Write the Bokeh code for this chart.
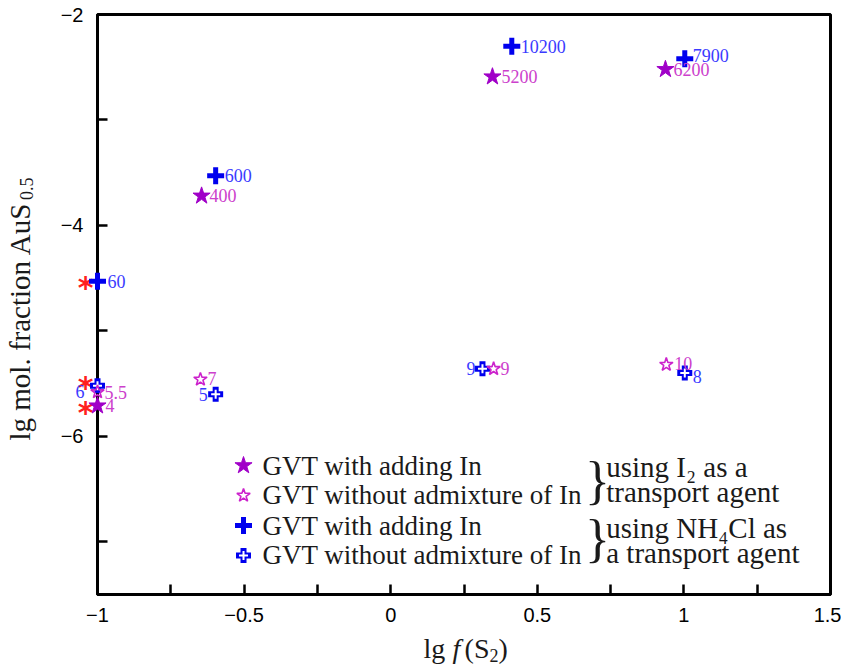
import math
from bokeh.plotting import figure
from bokeh.models import Label, Range1d, FixedTicker, ColumnDataSource, CustomJSTickFormatter
from bokeh.core.properties import value
from bokeh.embed import file_html
from bokeh.resources import INLINE

# lg f(S2) vs lg mol. fraction AuS0.5, labelled by Au content
# GVT with adding In, I2 as transport agent (filled stars)
i2_in_x = [-1.0, -0.645, 0.347, 0.937]
i2_in_y = [-5.71, -3.72, -2.59, -2.52]
i2_in_lbl = ["4", "400", "5200", "6200"]

# GVT without admixture of In, I2 as transport agent (open stars)
i2_no_x = [-1.0, -0.649, 0.351, 0.940]
i2_no_y = [-5.58, -5.46, -5.36, -5.32]
i2_no_lbl = ["5.5", "7", "9", "10"]

# GVT with adding In, NH4Cl as transport agent (filled crosses)
nh_in_x = [-1.0, -0.597, 0.413, 1.003]
nh_in_y = [-4.53, -3.53, -2.30, -2.42]
nh_in_lbl = ["60", "600", "10200", "7900"]

# GVT without admixture of In, NH4Cl as transport agent (open crosses)
nh_no_x = [-1.0, -0.597, 0.313, 1.003]
nh_no_y = [-5.52, -5.60, -5.36, -5.40]
nh_no_lbl = ["6", "5", "9", "8"]

# additional points at lg f(S2) = -1 (red asterisks, drawn just left of the axis)
ref_x = [-1.0, -1.0, -1.0]
ref_y = [-4.50, -5.45, -5.69]

x_ticks = [-1, -0.5, 0, 0.5, 1, 1.5]
x_minor = [-0.75, -0.25, 0.25, 0.75, 1.25]
y_ticks = [-6, -4, -2]
y_minor = [-7, -5, -3]

# label placement (pixels): dx, dy, align
i2_in_off = [(8, 0, "left"), (8, 0, "left"), (9, 0, "left"), (8, 0, "left")]
i2_no_off = [(7, 0, "left"), (7, -1, "left"), (7, 0, "left"), (8, -1, "left")]
nh_in_off = [(10, 0, "left"), (9, 0, "left"), (9, 0, "left"), (8, -3, "left")]
nh_no_off = [(-13, 6, "right"), (-8, 0, "right"), (-7, 0, "right"), (8, 3, "left")]

SERIF = "Liberation Serif"
SANS = "Liberation Sans"
STAR_FILL = "#a000c8"
STAR_OPEN = "#cc22cc"
PURPLE_TXT = "#cc40cc"
BLUE = "#0000ee"
BLUE_TXT = "#3a3aff"
INK = "#1a1a1a"

p = figure(width=841, height=666, x_range=Range1d(-1, 1.5), y_range=Range1d(-7.5, -2),
           output_backend="svg", toolbar_location=None,
           min_border_left=97, min_border_right=11, min_border_top=14, min_border_bottom=72)
p.xgrid.visible = False
p.ygrid.visible = False
p.background_fill_color = "white"
p.border_fill_color = "white"
p.outline_line_color = "black"
p.outline_line_width = 3

fmt = CustomJSTickFormatter(code="return tick < 0 ? '\\u2212' + Math.abs(tick) : String(tick);")
p.xaxis.ticker = FixedTicker(ticks=x_ticks, minor_ticks=x_minor)
p.yaxis.ticker = FixedTicker(ticks=y_ticks, minor_ticks=y_minor)
for ax in (p.xaxis, p.yaxis):
    ax.formatter = fmt
    ax.axis_line_width = 3
    ax.axis_line_color = "black"
    ax.major_tick_in = 10
    ax.major_tick_out = 0
    ax.minor_tick_in = 10
    ax.minor_tick_out = 0
    ax.major_tick_line_width = 2.5
    ax.minor_tick_line_width = 2.5
    ax.major_tick_line_color = "black"
    ax.minor_tick_line_color = "black"
    ax.major_label_text_font = SANS
    ax.major_label_text_font_size = "20px"
    ax.major_label_text_color = "black"
p.xaxis.major_label_standoff = 13
p.yaxis.major_label_standoff = 14


def point_labels(xs, ys, labels, offs, color):
    src = ColumnDataSource(dict(x=xs, y=ys, t=labels,
                                dx=[o[0] for o in offs], dy=[o[1] for o in offs],
                                al=[o[2] for o in offs]))
    r = p.text(x="x", y="y", text="t", x_offset="dx", y_offset="dy", text_align="al",
               text_baseline="middle", text_font=value(SERIF), text_font_size="18px",
               text_color=color, source=src)
    r.level = "overlay"


def free_text(x, y, t, dx, dy, size, style="normal", angle=0.0, baseline="middle"):
    # text anchored on the frame edge and shifted out in pixels, drawn above the axes
    r = p.text(x=[x], y=[y], text=[t], x_offset=dx, y_offset=dy, angle=angle,
               text_font=value(SERIF), text_font_size=size, text_font_style=style,
               text_baseline=baseline, text_align="left", text_color=INK)
    r.level = "overlay"


# markers
r = p.text(x=ref_x, y=ref_y, text=["*"] * len(ref_y), x_offset=-12, y_offset=9,
           text_align="center", text_baseline="middle", text_font=value("DejaVu Sans"),
           text_font_style="bold", text_font_size="30px", text_color="#ff2020")
r.level = "overlay"

r = p.scatter(nh_no_x, nh_no_y, marker="cross", size=15, line_color=BLUE, line_width=6)
r.level = "overlay"
r = p.scatter(nh_no_x, nh_no_y, marker="cross", size=9, line_color="white", line_width=2)
r.level = "overlay"

r = p.scatter(i2_no_x, i2_no_y, marker="star", size=14, fill_color="white", fill_alpha=0,
              line_color=STAR_OPEN, line_width=1.6)
r.level = "overlay"

r = p.scatter(i2_in_x, i2_in_y, marker="star", size=18, fill_color=STAR_FILL,
              line_color=STAR_FILL, line_width=1)
r.level = "overlay"

r = p.scatter(nh_in_x, nh_in_y, marker="cross", size=17, line_color=BLUE, line_width=5)
r.level = "overlay"

point_labels(i2_in_x, i2_in_y, i2_in_lbl, i2_in_off, PURPLE_TXT)
point_labels(i2_no_x, i2_no_y, i2_no_lbl, i2_no_off, PURPLE_TXT)
point_labels(nh_in_x, nh_in_y, nh_in_lbl, nh_in_off, BLUE_TXT)
point_labels(nh_no_x, nh_no_y, nh_no_lbl, nh_no_off, BLUE_TXT)

# legend
leg_mx = -0.502
leg_tx = -0.437
leg_rows = [-6.277, -6.561, -6.846, -7.130]
p.scatter([leg_mx], [leg_rows[0]], marker="star", size=18, fill_color=STAR_FILL, line_color=STAR_FILL)
p.scatter([leg_mx], [leg_rows[1]], marker="star", size=14, fill_color="white",
          line_color=STAR_OPEN, line_width=1.6)
p.scatter([leg_mx], [leg_rows[2]], marker="cross", size=17, line_color=BLUE, line_width=5)
p.scatter([leg_mx], [leg_rows[3]], marker="cross", size=15, line_color=BLUE, line_width=6)
p.scatter([leg_mx], [leg_rows[3]], marker="cross", size=9, line_color="white", line_width=2)

leg_texts = ["GVT with adding In", "GVT without admixture of In",
             "GVT with adding In", "GVT without admixture of In"]
for t, yy in zip(leg_texts, leg_rows):
    p.add_layout(Label(x=leg_tx, y=yy, text=t, text_font=SERIF, text_font_size="27px",
                       text_baseline="middle", text_color=INK))

for yy in (-6.419, -6.969):
    p.add_layout(Label(x=0.705, y=yy, text="}", text_font=SERIF, text_font_size="52px",
                       text_align="center", text_baseline="middle", text_color=INK))

side = [("using I\u2082 as a", -6.29), ("transport agent", -6.53),
        ("using NH\u2084Cl as", -6.87), ("a transport agent", -7.11)]
for t, yy in side:
    p.add_layout(Label(x=0.735, y=yy, text=t, text_font=SERIF, text_font_size="29px",
                       text_baseline="middle", text_color=INK))

# x-axis title: lg f(S2)
free_text(0.112, -7.5, "lg", 0, 54, "28px")
free_text(0.211, -7.5, "f", 0, 54, "28px", style="italic")
free_text(0.252, -7.5, "(S", 0, 54, "28px")
free_text(0.337, -7.5, "2", 0, 61, "18px")
free_text(0.368, -7.5, ")", 0, 54, "28px")

# y-axis title: lg mol. fraction AuS0.5
free_text(-1.0, -6.04, "lg mol. fraction AuS", -78, 0, "29px", angle=math.pi / 2)
free_text(-1.0, -3.76, "0.5", -71, 0, "18px", angle=math.pi / 2)

open("out.html", "w").write(file_html(p, INLINE))
